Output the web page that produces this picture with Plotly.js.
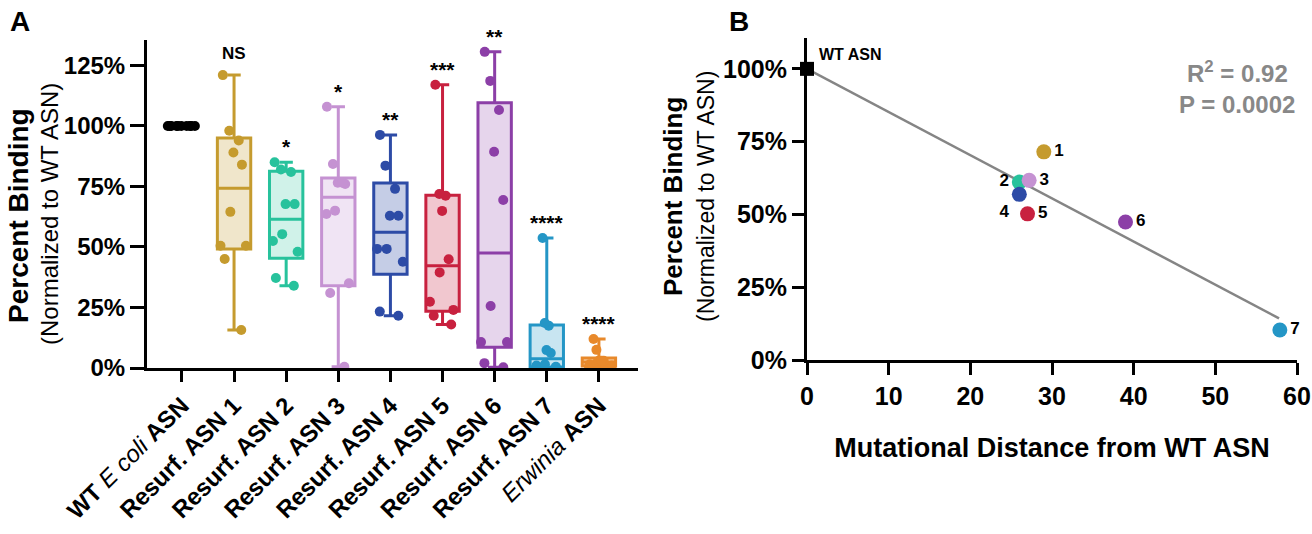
<!DOCTYPE html>
<html><head><meta charset="utf-8">
<script src="https://cdn.plot.ly/plotly-3.0.1.min.js"></script>
<style>html,body{margin:0;padding:0;background:#fff}#chart{width:1312px;height:534px}</style>
</head><body><div id="chart"></div>
<script>
// ---------- Panel A data ----------
const groupLabels = ['<b>WT</b> <i>E coli</i> <b>ASN</b>', '<b>Resurf. ASN 1</b>', '<b>Resurf. ASN 2</b>', '<b>Resurf. ASN 3</b>',
  '<b>Resurf. ASN 4</b>', '<b>Resurf. ASN 5</b>', '<b>Resurf. ASN 6</b>', '<b>Resurf. ASN 7</b>', '<i>Erwinia</i> <b>ASN</b>'];
const groupColors = ['#000000', '#C59B2E', '#27C29C', '#C592D2', '#2D4BA6', '#C8213F', '#8C3FA7', '#2496C6', '#E8892B'];
const groupFills = ['rgba(0,0,0,0.25)', 'rgba(197,155,46,0.25)', 'rgba(39,194,156,0.22)', 'rgba(197,146,210,0.25)',
  'rgba(45,75,166,0.28)', 'rgba(200,33,63,0.25)', 'rgba(140,63,167,0.22)', 'rgba(36,150,198,0.25)', 'rgba(232,137,43,0.3)'];
const wtEcoli = [100, 100, 100, 100, 100, 100, 100, 100, 100, 100];
const resurf1 = [121, 98, 94, 89, 84, 64.5, 50.5, 50.5, 45, 15.7];
const resurf2 = [85, 82, 81, 67.7, 67.7, 55.3, 52.5, 48, 37.2, 34];
const resurf3 = [107.9, 84.3, 76.5, 76.5, 76, 65, 63.6, 35, 31, 0.5];
const resurf4 = [96.3, 83.6, 74, 62.9, 62.9, 49.2, 49.2, 43.9, 23.3, 21.6];
const resurf5 = [117, 71.9, 71.2, 64.9, 44.9, 39.5, 27.4, 24, 21.6, 18];
const resurf6 = [130.6, 118.6, 106.6, 89.3, 69.4, 25.6, 10.7, 10.7, 2, 0.3];
const resurf7 = [53.7, 18.6, 17.5, 7.4, 6.2, 1.5, 1, 0.5, 0.2, 0];
const erwinia = [12, 7.5, 3, 3, 3, 2, 1.5, 1, 0.5, 0.3];
const sigLabels = ['', 'NS', '*', '*', '**', '***', '**', '****', '****'];

// ---------- Panel B data ----------
const pointLabels = ['1', '2', '3', '4', '5', '6', '7'];
const mutDistance = [29, 26, 27.2, 26, 27, 39, 57.9];
const bindingMean = [71.5, 61.1, 61.7, 56.9, 50.2, 47.4, 10.3];
const pointColors = ['#C59B2E', '#27C29C', '#C592D2', '#2D4BA6', '#C8213F', '#8C3FA7', '#2496C6'];
const labelPositions = ['middle right', 'middle left', 'middle right', 'bottom left', 'middle right', 'middle right', 'middle right'];
const wtDistance = [0];
const wtBinding = [100];
const fitX = [0, 57.8];
const fitY = [100, 14.3];
const statsText = ['R<sup>2</sup> = 0.92', 'P = 0.0002'];

const groupValues = [wtEcoli, resurf1, resurf2, resurf3, resurf4, resurf5, resurf6, resurf7, erwinia];

function quantExcl(s, p) {
  const n = s.length, pos = p * (n + 1);
  if (pos <= 1) return s[0];
  if (pos >= n) return s[n - 1];
  const lo = Math.floor(pos);
  return s[lo - 1] + (pos - lo) * (s[lo] - s[lo - 1]);
}

const FONT = 'Liberation Sans, Arial, Helvetica, sans-serif';
const traces = groupValues.map((vals, i) => {
  const s = vals.slice().sort((a, b) => a - b);
  return {
    type: 'box', x: [i], y: [vals],
    q1: [quantExcl(s, 0.25)], median: [quantExcl(s, 0.5)], q3: [quantExcl(s, 0.75)],
    lowerfence: [s[0]], upperfence: [s[s.length - 1]],
    boxpoints: 'all', jitter: 1, pointpos: 0,
    width: 0.64, whiskerwidth: 0.4,
    line: { color: groupColors[i], width: 3 }, fillcolor: groupFills[i],
    marker: { color: groupColors[i], size: 10, line: { width: 0 } },
    xaxis: 'x', yaxis: 'y', hoverinfo: 'skip', showlegend: false
  };
});

// Panel B traces
traces.push({
  type: 'scatter', mode: 'lines', x: fitX, y: fitY, xaxis: 'x2', yaxis: 'y2',
  line: { color: '#858585', width: 2.5 }, showlegend: false, hoverinfo: 'skip', cliponaxis: false
});
traces.push({
  type: 'scatter', mode: 'markers', x: wtDistance, y: wtBinding, xaxis: 'x2', yaxis: 'y2',
  marker: { symbol: 'square', color: '#000', size: 14 }, showlegend: false, cliponaxis: false
});
traces.push({
  type: 'scatter', mode: 'markers+text', x: mutDistance, y: bindingMean, xaxis: 'x2', yaxis: 'y2',
  text: pointLabels.map(t => '<b>' + t + '</b>'), textposition: labelPositions,
  textfont: { family: FONT, size: 17, color: '#000' },
  marker: { color: pointColors, size: 15 }, showlegend: false, cliponaxis: false
});

const annotations = [];
groupValues.forEach((vals, i) => {
  if (!sigLabels[i]) return;
  annotations.push({
    x: i, y: Math.max(...vals), xref: 'x', yref: 'y', yanchor: 'bottom', yshift: sigLabels[i] === 'NS' ? 10 : 2,
    text: '<b>' + sigLabels[i] + '</b>', showarrow: false,
    font: { family: FONT, size: sigLabels[i] === 'NS' ? 17 : 21, color: '#000' }
  });
});
annotations.push(
  { xref: 'paper', yref: 'paper', x: 8 / 1312, y: 1 - 4 / 534, xanchor: 'left', yanchor: 'top', text: '<b>A</b>', showarrow: false, font: { family: FONT, size: 28, color: '#000' } },
  { xref: 'paper', yref: 'paper', x: 727 / 1312, y: 1 - 4 / 534, xanchor: 'left', yanchor: 'top', text: '<b>B</b>', showarrow: false, font: { family: FONT, size: 28, color: '#000' } },
  { xref: 'paper', yref: 'paper', x: 18 / 1312, y: 1 - 216 / 534, textangle: -90, xanchor: 'center', yanchor: 'middle', text: '<b>Percent Binding</b>', showarrow: false, font: { family: FONT, size: 28, color: '#000' } },
  { xref: 'paper', yref: 'paper', x: 49 / 1312, y: 1 - 214 / 534, textangle: -90, xanchor: 'center', yanchor: 'middle', text: '(Normalized to WT ASN)', showarrow: false, font: { family: FONT, size: 24, color: '#000' } },
  { xref: 'paper', yref: 'paper', x: 673 / 1312, y: 1 - 197 / 534, textangle: -90, xanchor: 'center', yanchor: 'middle', text: '<b>Percent Binding</b>', showarrow: false, font: { family: FONT, size: 26, color: '#000' } },
  { xref: 'paper', yref: 'paper', x: 706 / 1312, y: 1 - 197 / 534, textangle: -90, xanchor: 'center', yanchor: 'middle', text: '(Normalized to WT ASN)', showarrow: false, font: { family: FONT, size: 23, color: '#000' } },
  { xref: 'x2', yref: 'y2', x: 0, y: 100, xanchor: 'left', yanchor: 'bottom', xshift: 10, yshift: 4, text: '<b>WT ASN</b>', showarrow: false, font: { family: FONT, size: 16, color: '#000' } },
  { xref: 'paper', yref: 'paper', x: 1290 / 1312, y: 1 - 72 / 534, xanchor: 'right', yanchor: 'middle', text: '<b>' + statsText[0] + '</b>', showarrow: false, font: { family: FONT, size: 24, color: '#888' } },
  { xref: 'paper', yref: 'paper', x: 1297 / 1312, y: 1 - 104 / 534, xanchor: 'right', yanchor: 'middle', text: '<b>' + statsText[1] + '</b>', showarrow: false, font: { family: FONT, size: 24, color: '#888' } }
);

const axisCommon = { showline: true, linecolor: '#000', linewidth: 3, ticks: 'outside', tickcolor: '#000', tickwidth: 3, showgrid: false, zeroline: false };
const layout = {
  width: 1312, height: 534, margin: { l: 0, r: 0, t: 0, b: 0 }, paper_bgcolor: '#fff', plot_bgcolor: 'rgba(0,0,0,0)',
  boxmode: 'overlay', showlegend: false, font: { family: FONT, color: '#000' },
  xaxis: Object.assign({}, axisCommon, {
    domain: [147 / 1312, 638 / 1312], range: [-0.67, 8.75], tickmode: 'array', tickvals: groupValues.map((v, i) => i), ticktext: groupLabels,
    tickangle: -45, ticklen: 11, tickfont: { family: FONT, size: 24, color: '#000' }, anchor: 'y', fixedrange: true
  }),
  yaxis: Object.assign({}, axisCommon, {
    domain: [1 - 368 / 534, 1 - 40 / 534], range: [0, 135.5], tick0: 0, dtick: 25, ticksuffix: '%', ticklen: 14,
    tickfont: { family: FONT, size: 24, color: '#000', weight: 'bold' }, anchor: 'x'
  }),
  xaxis2: Object.assign({}, axisCommon, {
    domain: [807 / 1312, 1297 / 1312], range: [0, 60], tick0: 0, dtick: 10, ticklen: 12,
    tickfont: { family: FONT, size: 25, color: '#000', weight: 'bold' }, anchor: 'y2',
    title: { text: '<b>Mutational Distance from WT ASN</b>', font: { family: FONT, size: 27, color: '#000' }, standoff: 30 }
  }),
  yaxis2: Object.assign({}, axisCommon, {
    domain: [1 - 360 / 534, 1 - 38 / 534], range: [0, 110.6], tick0: 0, dtick: 25, ticksuffix: '%', ticklen: 12,
    tickfont: { family: FONT, size: 25, color: '#000', weight: 'bold' }, anchor: 'x2'
  }),
  annotations: annotations
};

Plotly.newPlot('chart', traces, layout, { staticPlot: true });
</script>
</body></html>
